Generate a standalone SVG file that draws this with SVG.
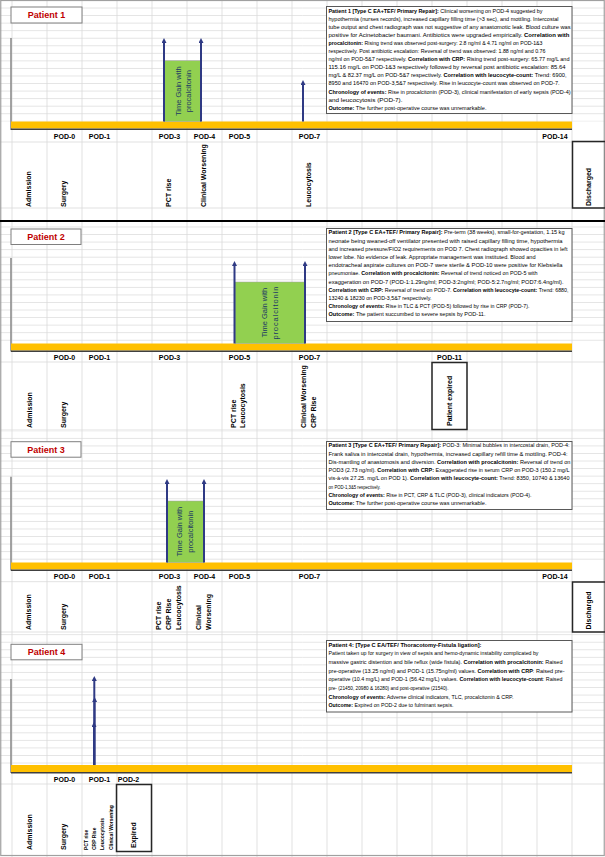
<svg xmlns="http://www.w3.org/2000/svg" width="605" height="857" viewBox="0 0 605 857">
<defs>
<style>
.grid{stroke:#d9d9d9;stroke-width:0.8}
.t{font-family:"Liberation Sans",Arial,sans-serif;font-size:5.1px;fill:#000}
.b{font-weight:bold}
.pod{font-family:"Liberation Sans",Arial,sans-serif;font-size:7px;font-weight:bold;text-anchor:middle;fill:#000}
.ev{font-family:"Liberation Sans",Arial,sans-serif;font-size:7px;font-weight:bold;fill:#000}
.evs{font-family:"Liberation Sans",Arial,sans-serif;font-size:5px;font-weight:bold;fill:#000}
.pl{fill:#fff;stroke:#7f7f7f;stroke-width:1}
.plt{font-family:"Liberation Sans",Arial,sans-serif;font-size:9px;font-weight:bold;fill:#c00000;text-anchor:middle}
.tb{fill:#fff;stroke:#595959;stroke-width:1}
.bar{fill:#ffc000}
.barline{stroke:#404040;stroke-width:1.6}
.axis{stroke:#8c8c8c;stroke-width:1.6}
.green{fill:#92d050;stroke:#a0a0a0;stroke-width:0.5}
.gt{font-family:"Liberation Sans",Arial,sans-serif;font-size:7.5px;fill:#203864;text-anchor:middle}
.arr{stroke:#2f3a84;stroke-width:2;fill:none;marker-end:url(#ah)}
.box{fill:none;stroke:#262626;stroke-width:1.5}
.row{stroke:#d9d9d9;stroke-width:0.8}
</style>
<marker id="ah" viewBox="0 0 10 10" refX="2" refY="5" markerWidth="5" markerHeight="5" orient="auto" markerUnits="userSpaceOnUse"><path d="M0,0 L10,5 L0,10 z" fill="#2f3a84"/></marker>
<pattern id="rows" patternUnits="userSpaceOnUse" x="0" y="0" width="605" height="7.55"><line x1="0" y1="0.4" x2="605" y2="0.4" stroke="#dadada" stroke-width="0.8"/></pattern>
</defs>
<rect x="0" y="0" width="605" height="857" fill="#fff"/>
<g id="grid">
<rect x="0" y="0" width="605" height="121.5" fill="url(#rows)"/>
<rect x="0" y="222" width="605" height="121.5" fill="url(#rows)"/>
<rect x="0" y="431" width="605" height="131.5" fill="url(#rows)"/>
<rect x="0" y="633" width="605" height="132" fill="url(#rows)"/>
<line class="row" x1="0" y1="142" x2="605" y2="142"/>
<line class="row" x1="0" y1="208" x2="605" y2="208"/>
<line class="row" x1="0" y1="362" x2="605" y2="362"/>
<line class="row" x1="0" y1="430" x2="605" y2="430"/>
<line class="row" x1="0" y1="581.7" x2="605" y2="581.7"/>
<line class="row" x1="0" y1="632" x2="605" y2="632"/>
<line class="row" x1="0" y1="784" x2="605" y2="784"/>
<g class="grid">
<line x1="12" y1="0" x2="12" y2="857"/><line x1="47" y1="0" x2="47" y2="857"/><line x1="82" y1="0" x2="82" y2="857"/><line x1="117" y1="0" x2="117" y2="857"/><line x1="152" y1="0" x2="152" y2="857"/><line x1="187" y1="0" x2="187" y2="857"/><line x1="222" y1="0" x2="222" y2="857"/><line x1="257" y1="0" x2="257" y2="857"/><line x1="292" y1="0" x2="292" y2="857"/><line x1="327" y1="0" x2="327" y2="857"/><line x1="362" y1="0" x2="362" y2="857"/><line x1="397" y1="0" x2="397" y2="857"/><line x1="432" y1="0" x2="432" y2="857"/><line x1="467" y1="0" x2="467" y2="857"/><line x1="502" y1="0" x2="502" y2="857"/><line x1="537" y1="0" x2="537" y2="857"/><line x1="572" y1="0" x2="572" y2="857"/>
</g>
<rect x="0.75" y="0.5" width="603.5" height="855" fill="none" stroke="#a0a0a0" stroke-width="1.2"/>
<line x1="0" y1="221" x2="605" y2="221" stroke="#000" stroke-width="1.8"/>
</g>

<!-- Patient 1 -->
<g id="p1-title"><rect class="pl" x="11" y="7" width="71" height="16"/><text class="plt" x="46.5" y="18.3">Patient 1</text></g>
<g id="p1-timeline">
<line class="axis" x1="11" y1="38" x2="11" y2="130"/>
<rect class="bar" x="11" y="121.5" width="561" height="7"/>
<line class="barline" x1="11" y1="129.3" x2="572" y2="129.3"/>
<text class="pod" x="64.5" y="138.5">POD-0</text><text class="pod" x="99.5" y="138.5">POD-1</text><text class="pod" x="169.5" y="138.5">POD-3</text><text class="pod" x="204.5" y="138.5">POD-4</text><text class="pod" x="239.5" y="138.5">POD-5</text><text class="pod" x="309.5" y="138.5">POD-7</text><text class="pod" x="555" y="138.5">POD-14</text>
</g>
<g id="p1-green"><rect class="green" x="164" y="60.7" width="37" height="60.8"/><text class="gt" transform="translate(180.5,91.2) rotate(-90)"><tspan x="0" dy="0">Time Gain with</tspan><tspan x="0" dy="10.5">procalcitonin</tspan></text></g>
<g id="p1-events">
<text class="ev" transform="translate(31,207) rotate(-90)">Admission</text>
<text class="ev" transform="translate(66,207) rotate(-90)">Surgery</text>
<text class="ev" transform="translate(171,207) rotate(-90)">PCT rise</text>
<text class="ev" transform="translate(206,207) rotate(-90)">Clinical Worsening</text>
<text class="ev" transform="translate(311,207) rotate(-90)">Leucocytosis</text>
</g>
<g id="p1-discharged"><rect class="box" x="572.5" y="141.5" width="33" height="66.5"/><text class="ev" transform="translate(591,206) rotate(-90)">Discharged</text></g>
<g id="p1-note"><rect class="tb" x="326.5" y="6.5" width="245.5" height="107"/>
<text class="t" x="328.5" y="12.5" textLength="214" lengthAdjust="spacingAndGlyphs"><tspan class="b">Patient 1 [Type C EA+TEF/ Primary Repair]:</tspan> Clinical worsening on POD-4 suggested by</text>
<text class="t" x="328.5" y="20.6" textLength="230" lengthAdjust="spacingAndGlyphs">hypothermia (nurses records), increased capillary filling time (&gt;3 sec), and mottling. Intercostal</text>
<text class="t" x="328.5" y="28.7" textLength="242" lengthAdjust="spacingAndGlyphs">tube output and chest radiograph was not suggestive of any anastomotic leak. Blood culture was</text>
<text class="t" x="328.5" y="36.8" textLength="241" lengthAdjust="spacingAndGlyphs">positive for Acinetobacter baumani. Antibiotics were upgraded empirically. <tspan class="b">Correlation with</tspan></text>
<text class="t" x="328.5" y="44.9" textLength="214" lengthAdjust="spacingAndGlyphs"><tspan class="b">procalcitonin:</tspan> Rising trend was observed post-surgery: 2.8 ng/ml &amp; 4.71 ng/ml on POD-1&amp;3</text>
<text class="t" x="328.5" y="53" textLength="217" lengthAdjust="spacingAndGlyphs">respectively. Post antibiotic escalation:  Reversal of trend was observed: 1.88 ng/ml and 0.76</text>
<text class="t" x="328.5" y="61.1" textLength="241" lengthAdjust="spacingAndGlyphs">ng/ml on POD-5&amp;7 respectively. <tspan class="b">Correlation with CRP:</tspan> Rising trend post-surgery: 65.77 mg/L and</text>
<text class="t" x="328.5" y="69.2" textLength="237" lengthAdjust="spacingAndGlyphs">115.16 mg/L on POD-1&amp;3 respectively followed by reversal post antibiotic escalation:  85.64</text>
<text class="t" x="328.5" y="77.3" textLength="238" lengthAdjust="spacingAndGlyphs">mg/L &amp; 82.37 mg/L on POD-5&amp;7 respectively. <tspan class="b">Correlation with leucocyte-count:</tspan> Trend: 6900,</text>
<text class="t" x="328.5" y="85.4" textLength="231" lengthAdjust="spacingAndGlyphs">8950 and 16470 on POD-3,5&amp;7 respectively. Rise in leucocyte-count was observed on POD-7.</text>
<text class="t" x="328.5" y="93.5" textLength="242" lengthAdjust="spacingAndGlyphs"><tspan class="b">Chronology of events:</tspan> Rise in procalcitonin (POD-3), clinical manifestation of early sepsis (POD-4)</text>
<text class="t" x="328.5" y="101.6" textLength="74" lengthAdjust="spacingAndGlyphs">and leucocytosis (POD-7).</text>
<text class="t" x="328.5" y="109.7" textLength="158" lengthAdjust="spacingAndGlyphs"><tspan class="b">Outcome:</tspan> The further post-operative course was unremarkable.</text>
</g>

<!-- Patient 2 -->
<g id="p2-title"><rect class="pl" x="11" y="229" width="70" height="15.5"/><text class="plt" x="46" y="240">Patient 2</text></g>
<g id="p2-timeline">
<line class="axis" x1="11" y1="258" x2="11" y2="351.5"/>
<rect class="bar" x="11" y="343.5" width="561" height="7"/>
<line class="barline" x1="11" y1="351.3" x2="572" y2="351.3"/>
<text class="pod" x="64.5" y="360.3">POD-0</text><text class="pod" x="99.5" y="360.3">POD-1</text><text class="pod" x="169.5" y="360.3">POD-3</text><text class="pod" x="239.5" y="360.3">POD-5</text><text class="pod" x="309.5" y="360.3">POD-7</text><text class="pod" x="449.5" y="360.3">POD-11</text>
</g>
<g id="p2-green"><rect class="green" x="235" y="282" width="70" height="61.5"/><text class="gt" transform="translate(267,312.7) rotate(-90)"><tspan x="0" dy="0">Time Gain with</tspan><tspan x="0" dy="11" letter-spacing="0.9">procalcitonin</tspan></text></g>
<g id="p2-events">
<text class="ev" transform="translate(31.5,428) rotate(-90)">Admission</text>
<text class="ev" transform="translate(66,428) rotate(-90)">Surgery</text>
<text class="ev" transform="translate(235.8,428) rotate(-90)"><tspan x="0" dy="0">PCT rise</tspan><tspan x="0" dy="9.4">Leucocytosis</tspan></text>
<text class="ev" transform="translate(305.5,428) rotate(-90)"><tspan x="0" dy="0">Clinical Worsening</tspan><tspan x="0" dy="10">CRP Rise</tspan></text>
</g>
<g id="p2-expired"><rect class="box" x="432" y="362.5" width="35" height="67"/><text class="ev" transform="translate(451.5,426) rotate(-90)">Patient expired</text></g>
<g id="p2-note"><rect class="tb" x="326.5" y="228.5" width="245.5" height="93"/>
<text class="t" x="328.5" y="234.3" textLength="236" lengthAdjust="spacingAndGlyphs"><tspan class="b">Patient 2 [Type C EA+TEF/ Primary Repair]:</tspan> Pre-term (38 weeks), small-for-gestation, 1.15 kg</text>
<text class="t" x="328.5" y="242.5" textLength="234" lengthAdjust="spacingAndGlyphs">neonate being weaned-off ventilator presented with raised capillary filling time, hypothermia</text>
<text class="t" x="328.5" y="250.7" textLength="239" lengthAdjust="spacingAndGlyphs">and increased pressure/FIO2 requirements on POD 7. Chest radiograph showed opacities in left</text>
<text class="t" x="328.5" y="258.9" textLength="207" lengthAdjust="spacingAndGlyphs">lower lobe. No evidence of leak. Appropriate management was instituted. Blood and</text>
<text class="t" x="328.5" y="267.1" textLength="234" lengthAdjust="spacingAndGlyphs">endotracheal aspirate cultures on POD-7 were sterile &amp; POD-10 were positive for Klebsiella</text>
<text class="t" x="328.5" y="275.3" textLength="209" lengthAdjust="spacingAndGlyphs">pneumoniae. <tspan class="b">Correlation with procalcitonin:</tspan> Reversal of trend noticed on POD-5 with</text>
<text class="t" x="328.5" y="283.5" textLength="235" lengthAdjust="spacingAndGlyphs">exaggeration on POD-7 (POD-1:1.29ng/ml; POD-3:2ng/ml; POD-5:2.7ng/ml; POD7:6.4ng/ml).</text>
<text class="t" x="328.5" y="291.7" textLength="240" lengthAdjust="spacingAndGlyphs"><tspan class="b">Correlation with CRP:</tspan> Reversal  of trend on POD-7. <tspan class="b">Correlation with leucocyte-count:</tspan> Trend: 6880,</text>
<text class="t" x="328.5" y="299.9" textLength="103" lengthAdjust="spacingAndGlyphs">13240 &amp; 18230 on POD-3,5&amp;7 respectively.</text>
<text class="t" x="328.5" y="308.1" textLength="201" lengthAdjust="spacingAndGlyphs"><tspan class="b">Chronology of events:</tspan> Rise in TLC &amp; PCT (POD-5) followed by rise in CRP (POD-7).</text>
<text class="t" x="328.5" y="316.3" textLength="157" lengthAdjust="spacingAndGlyphs"><tspan class="b">Outcome:</tspan> The patient succumbed to severe sepsis by POD-11.</text>
</g>

<!-- Patient 3 -->
<g id="p3-title"><rect class="pl" x="11" y="441.7" width="70" height="15.5"/><text class="plt" x="46" y="452.6">Patient 3</text></g>
<g id="p3-timeline">
<line class="axis" x1="11" y1="476.7" x2="11" y2="570.5"/>
<rect class="bar" x="11" y="562.5" width="561" height="7"/>
<line class="barline" x1="11" y1="570.3" x2="572" y2="570.3"/>
<text class="pod" x="64.5" y="578.7">POD-0</text><text class="pod" x="99.5" y="578.7">POD-1</text><text class="pod" x="169.5" y="578.7">POD-3</text><text class="pod" x="204.5" y="578.7">POD-4</text><text class="pod" x="239.5" y="578.7">POD-5</text><text class="pod" x="309.5" y="578.7">POD-7</text><text class="pod" x="555" y="578.7">POD-14</text>
</g>
<g id="p3-green"><rect class="green" x="167" y="501" width="37" height="61.5"/><text class="gt" transform="translate(182.2,531.7) rotate(-90)"><tspan x="0" dy="0">Time Gain with</tspan><tspan x="0" dy="11">procalcitonin</tspan></text></g>
<g id="p3-events">
<text class="ev" transform="translate(31,630) rotate(-90)">Admission</text>
<text class="ev" transform="translate(66,630) rotate(-90)">Surgery</text>
<text class="ev" transform="translate(160.5,630) rotate(-90)"><tspan x="0" dy="0">PCT rise</tspan><tspan x="0" dy="10">CRP Rise</tspan><tspan x="0" dy="10.2">Leucocytosis</tspan></text>
<text class="ev" transform="translate(200.5,630) rotate(-90)"><tspan x="0" dy="0">Clinical</tspan><tspan x="0" dy="10.5">Worsening</tspan></text>
</g>
<g id="p3-discharged"><rect class="box" x="572.5" y="582" width="33" height="50"/><text class="ev" transform="translate(591,629.5) rotate(-90)">Discharged</text></g>
<g id="p3-note"><rect class="tb" x="326.5" y="441.5" width="245.5" height="68"/>
<text class="t" x="328.5" y="447.3" textLength="241" lengthAdjust="spacingAndGlyphs"><tspan class="b">Patient 3 [Type C EA+TEF/ Primary Repair]:</tspan> POD-3: Minimal bubbles in intercostal drain, POD-4:</text>
<text class="t" x="328.5" y="455.5" textLength="239" lengthAdjust="spacingAndGlyphs">Frank saliva in intercostal drain, hypothermia, increased capillary refill time &amp; mottling. POD-4:</text>
<text class="t" x="328.5" y="463.8" textLength="242" lengthAdjust="spacingAndGlyphs">Dis-mantling of anastomosis and diversion. <tspan class="b">Correlation with procalcitonin:</tspan>  Reversal of trend on</text>
<text class="t" x="328.5" y="472" textLength="241" lengthAdjust="spacingAndGlyphs">POD3 (2.73 ng/ml). <tspan class="b">Correlation with CRP:</tspan> Exaggerated rise in serum CRP on POD-3 (150.2 mg/L</text>
<text class="t" x="328.5" y="480.3" textLength="241" lengthAdjust="spacingAndGlyphs">vis-à-vis 27.25. mg/L on POD 1). <tspan class="b">Correlation with leucocyte-count:</tspan> Trend: 8350, 10740 &amp; 13640</text>
<text class="t" x="328.5" y="488.5" textLength="52" lengthAdjust="spacingAndGlyphs">on POD-1,3&amp;5 respectively.</text>
<text class="t" x="328.5" y="496.7" textLength="203" lengthAdjust="spacingAndGlyphs"><tspan class="b">Chronology of events:</tspan> Rise in PCT, CRP &amp; TLC (POD-3), clinical indicators (POD-4).</text>
<text class="t" x="328.5" y="505" textLength="158" lengthAdjust="spacingAndGlyphs"><tspan class="b">Outcome:</tspan> The further post-operative course was unremarkable.</text>
</g>

<!-- Patient 4 -->
<g id="p4-title"><rect class="pl" x="11" y="644.3" width="71" height="15.5"/><text class="plt" x="46.5" y="655.2">Patient 4</text></g>
<g id="p4-timeline">
<line class="axis" x1="11" y1="679" x2="11" y2="773"/>
<rect class="bar" x="11" y="765" width="561" height="7"/>
<line class="barline" x1="11" y1="772.8" x2="572" y2="772.8"/>
<text class="pod" x="64.5" y="781.8">POD-0</text><text class="pod" x="99.5" y="781.8">POD-1</text><text class="pod" x="128.5" y="781.8">POD-2</text>
</g>
<g id="p4-events">
<text class="ev" transform="translate(31.5,850) rotate(-90)">Admission</text>
<text class="ev" transform="translate(65.8,850) rotate(-90)">Surgery</text>
<text class="evs" transform="translate(87.8,850) rotate(-90)"><tspan x="0" dy="0">PCT rise</tspan><tspan x="0" dy="8.3">CRP Rise</tspan><tspan x="0" dy="8.3">Leucocytosis</tspan><tspan x="0" dy="8.3">Clinical Worsening</tspan></text>
</g>
<g id="p4-expired"><rect class="box" x="116.5" y="784.5" width="35" height="67"/><text class="ev" transform="translate(135.8,848) rotate(-90)">Expired</text></g>
<g id="p4-note"><rect class="tb" x="326.5" y="640.5" width="245.5" height="71.5"/>
<text class="t" x="328.5" y="646.5" textLength="153" lengthAdjust="spacingAndGlyphs"><tspan class="b">Patient 4: [Type C EA/TEF/ Thoracotomy-Fistula ligation]:</tspan></text>
<text class="t" x="328.5" y="655.2" textLength="210" lengthAdjust="spacingAndGlyphs">Patient taken up for surgery in view of sepsis and hemo-dynamic instability complicated by</text>
<text class="t" x="328.5" y="663.9" textLength="234" lengthAdjust="spacingAndGlyphs">massive gastric distention and bile reflux (wide fistula). <tspan class="b">Correlation with procalcitonin:</tspan>  Raised</text>
<text class="t" x="328.5" y="672.6" textLength="236" lengthAdjust="spacingAndGlyphs">pre-operative (13.25 ng/ml) and POD-1 (15.75ng/ml) values. <tspan class="b">Correlation with CRP</tspan>: Raised pre-</text>
<text class="t" x="328.5" y="681.3" textLength="234" lengthAdjust="spacingAndGlyphs">operative (10.4 mg/L) and POD-1 (56.42 mg/L) values. <tspan class="b">Correlation with leucocyte-count</tspan>: Raised</text>
<text class="t" x="328.5" y="690" textLength="120" lengthAdjust="spacingAndGlyphs">pre- (21450, 20980 &amp; 16280) and post-operative (21540).</text>
<text class="t" x="328.5" y="698.7" textLength="185" lengthAdjust="spacingAndGlyphs"><tspan class="b">Chronology of events:</tspan> Adverse clinical indicators, TLC, procalcitonin &amp; CRP.</text>
<text class="t" x="328.5" y="707.4" textLength="125" lengthAdjust="spacingAndGlyphs"><tspan class="b">Outcome:</tspan> Expired on POD-2 due to fulminant sepsis.</text>
</g>

<g id="connectors">
<line class="arr" x1="164" y1="121.5" x2="164" y2="42"/>
<line class="arr" x1="201" y1="121.5" x2="201" y2="42"/>
<line class="arr" x1="303" y1="121.5" x2="303" y2="84"/>
<line class="arr" x1="234.5" y1="343.5" x2="234.5" y2="265"/>
<line class="arr" x1="305" y1="343.5" x2="305" y2="265"/>
<line class="arr" x1="167" y1="562.5" x2="167" y2="483"/>
<line class="arr" x1="204" y1="562.5" x2="204" y2="483"/>
<line class="arr" x1="94" y1="765" x2="94" y2="726"/>
<line class="arr" x1="94.6" y1="765" x2="94.6" y2="701"/>
<line class="arr" x1="94.3" y1="765" x2="94.3" y2="680"/>
</g>
</svg>
